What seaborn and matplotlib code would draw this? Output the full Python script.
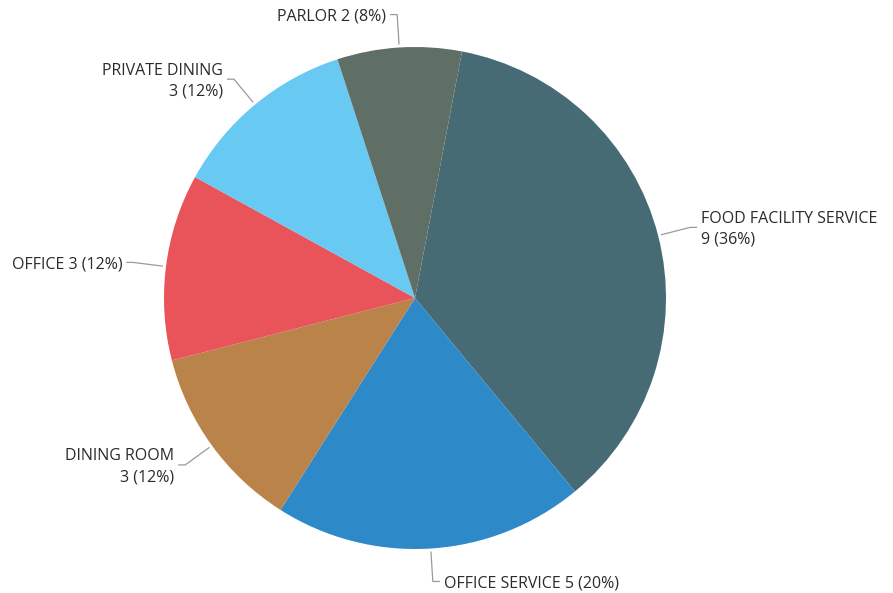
import numpy as np
import matplotlib
matplotlib.use("Agg")
import matplotlib.pyplot as plt
import seaborn as sns

categories = ["FOOD FACILITY SERVICE", "OFFICE SERVICE", "DINING ROOM",
              "OFFICE", "PRIVATE DINING", "PARLOR"]
counts = [9, 5, 3, 3, 3, 2]
colors = ["#476B75", "#2D89C8", "#B9834A", "#E8545A", "#68C9F3", "#5F6F66"]
two_line = [True, False, True, False, True, False]

sns.set_theme(style="white")
plt.rcParams["font.family"] = ["Open Sans", "DejaVu Sans"]

W, H = 893, 593
fig = plt.figure(figsize=(W / 100, H / 100), dpi=100)
ax = fig.add_axes([0, 0, 1, 1])

cx, cy, R = 415, H - 298, 251
start = 79.2
wedges, _ = ax.pie(counts, colors=colors, startangle=start, counterclock=False,
                   center=(cx, cy), radius=R, frame=True,
                   wedgeprops=dict(linewidth=0))
ax.set_xlim(0, W)
ax.set_ylim(0, H)
ax.set_aspect("equal")
ax.axis("off")

total = sum(counts)
for w, cat, n, tl in zip(wedges, categories, counts, two_line):
    mid = np.deg2rad((w.theta1 + w.theta2) / 2)
    c, s = np.cos(mid), np.sin(mid)
    r0, r1 = R + 3, R + 33
    x0, y0 = cx + r0 * c, cy + r0 * s
    x1, y1 = cx + r1 * c, cy + r1 * s
    side = 1 if c >= 0 else -1
    x2 = x1 + side * 7
    ax.plot([x0, x1, x2], [y0, y1, y1], color="#9a9a9a", lw=0.9,
            solid_capstyle="butt")
    pct = round(100 * n / total)
    if tl:
        txt = f"{cat}\n{n} ({pct}%)"
    else:
        txt = f"{cat} {n} ({pct}%)"
    ax.text(x2 + side * 4, y1 - 2, txt, ha="left" if side > 0 else "right",
            va="center", multialignment="left" if side > 0 else "right",
            fontsize=11.5, color="#2b2b2b", linespacing=1.42)

fig.savefig("out.png", dpi=100, facecolor="white")
